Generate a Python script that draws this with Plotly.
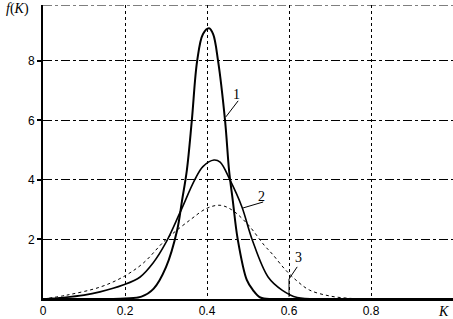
import plotly.graph_objects as go

# Curve 1
k1 = [0, 0.1, 0.2, 0.24, 0.27, 0.30, 0.327, 0.339, 0.351, 0.363, 0.376, 0.39, 0.405, 0.415,
      0.427, 0.444, 0.454, 0.463, 0.475, 0.497, 0.512, 0.53, 0.56, 0.6, 1.0]
f1 = [0, 0, 0.02, 0.08, 0.35, 1.07, 2.3, 3.3, 4.34, 6.0, 8.0, 8.9, 9.1, 8.9,
      8.0, 6.0, 4.3, 3.3, 2.0, 0.64, 0.3, 0.05, 0, 0, 0]
# Curve 2
k2 = [0, 0.05, 0.1, 0.139, 0.195, 0.237, 0.268, 0.30, 0.334, 0.37, 0.39, 0.417, 0.432,
      0.456, 0.485, 0.51, 0.549, 0.583, 0.62, 0.7, 1.0]
f2 = [0, 0.05, 0.13, 0.24, 0.47, 0.74, 1.2, 1.9, 2.9, 4.0, 4.45, 4.67, 4.6,
      4.0, 3.1, 2.0, 0.74, 0.3, 0.05, 0, 0]
# Curve 3
k3 = [0, 0.058, 0.139, 0.195, 0.244, 0.30, 0.359, 0.40, 0.432, 0.46, 0.5, 0.54, 0.56,
      0.59, 0.62, 0.65, 0.7, 0.75, 0.8, 1.0]
f3 = [0, 0.13, 0.4, 0.74, 1.2, 2.0, 2.66, 3.05, 3.15, 3.0, 2.5, 1.8, 1.5,
      1.0, 0.6, 0.3, 0.1, 0.02, 0, 0]

x_ticks = [0, 0.2, 0.4, 0.6, 0.8]
x_tick_labels = ["0", "0.2", "0.4", "0.6", "0.8"]
y_ticks = [2, 4, 6, 8]
y_tick_labels = ["2", "4", "6", "8"]

curve_labels = ["1", "2", "3"]
label_x = [0.473, 0.534, 0.622]
label_y = [6.86, 3.43, 1.41]

YMAX = 9.88

fig = go.Figure()
fig.add_trace(go.Scatter(x=k3, y=f3, mode="lines", line=dict(color="black", width=1, dash="dot", shape="spline"),
                         showlegend=False))
fig.add_trace(go.Scatter(x=k2, y=f2, mode="lines", line=dict(color="black", width=1.6, shape="spline"),
                         showlegend=False))
fig.add_trace(go.Scatter(x=k1, y=f1, mode="lines", line=dict(color="black", width=2, shape="spline"),
                         showlegend=False))

# leader lines
leaders = [
    ([0.446, 0.476], [6.12, 6.66]),
    ([0.488, 0.537], [3.06, 3.26]),
    ([0.6, 0.6, 0.62], [0.07, 0.67, 1.08]),
]
for lx, ly in leaders:
    fig.add_trace(go.Scatter(x=lx, y=ly, mode="lines", line=dict(color="black", width=1), showlegend=False))

for t, lx, ly in zip(curve_labels, label_x, label_y):
    fig.add_annotation(x=lx, y=ly, text=t, showarrow=False, xanchor="center", yanchor="middle",
                       font=dict(family="Liberation Serif", size=14, color="black"))

# top frame line
fig.add_shape(type="line", xref="paper", yref="y", x0=0, x1=1, y0=YMAX, y1=YMAX,
              line=dict(color="black", width=1, dash="dashdot"))

fig.add_annotation(xref="paper", yref="paper", x=-0.095, y=0.985, text="<i>f</i>(<i>K</i>)", showarrow=False,
                   xanchor="left", yanchor="middle", font=dict(family="Liberation Serif", size=14, color="black"))
fig.add_annotation(xref="paper", yref="paper", x=0.995, y=-0.01, text="<i>K</i>", showarrow=False,
                   xanchor="right", yanchor="top", font=dict(family="Liberation Serif", size=14, color="black"))

fig.update_xaxes(range=[0, 1.0], tickvals=x_ticks, ticktext=x_tick_labels, showgrid=True,
                 gridcolor="black", griddash="dot", gridwidth=1, showline=True, linecolor="black",
                 linewidth=2, zeroline=False, ticks="", fixedrange=True,
                 tickfont=dict(family="Liberation Sans", size=12, color="black"))
fig.update_yaxes(range=[0, YMAX], tickvals=y_ticks, ticktext=y_tick_labels, showgrid=True,
                 gridcolor="black", griddash="dashdot", gridwidth=1, showline=True, linecolor="black",
                 linewidth=2, zeroline=False, ticks="outside", ticklen=4, tickwidth=2, tickcolor="black",
                 fixedrange=True, tickfont=dict(family="Liberation Sans", size=12, color="black"))

fig.update_layout(width=453, height=319, margin=dict(l=43, r=0, t=5, b=20),
                  plot_bgcolor="white", paper_bgcolor="white")

fig.write_html("out.html", config={"displayModeBar": False},
               post_script="document.body.style.margin='0px';document.body.style.overflow='hidden';")
